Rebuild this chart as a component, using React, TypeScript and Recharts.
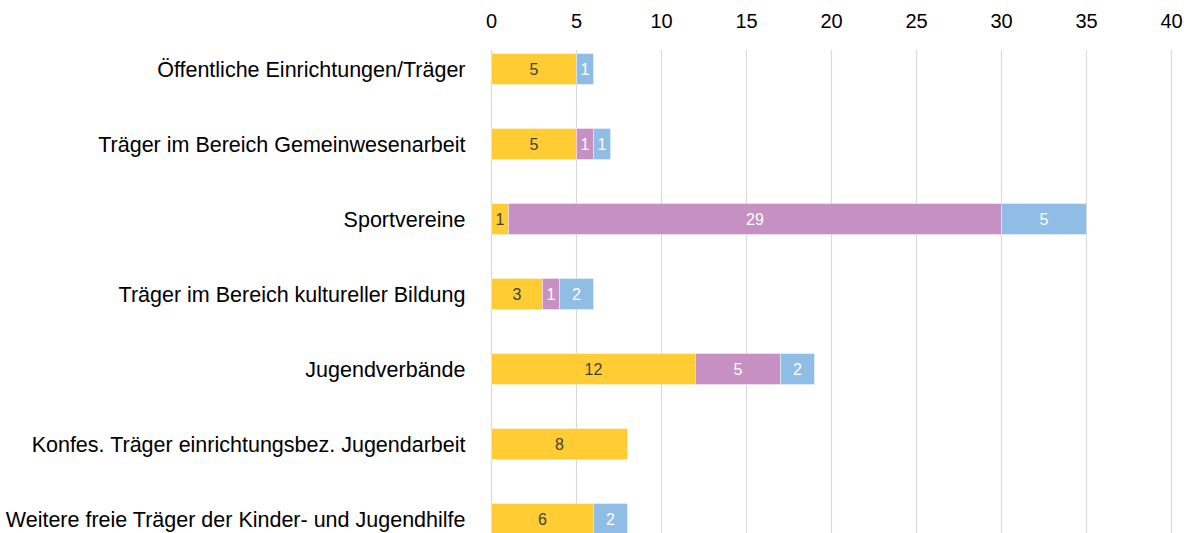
import { BarChart, Bar, XAxis, YAxis, CartesianGrid, LabelList } from "recharts";

const categories = [
  "Öffentliche Einrichtungen/Träger",
  "Träger im Bereich Gemeinwesenarbeit",
  "Sportvereine",
  "Träger im Bereich kultureller Bildung",
  "Jugendverbände",
  "Konfes. Träger einrichtungsbez. Jugendarbeit",
  "Weitere freie Träger der Kinder- und Jugendhilfe",
];

const gelb = [5, 5, 1, 3, 12, 8, 6];
const lila = [0, 1, 29, 1, 5, 0, 0];
const blau = [1, 1, 5, 2, 2, 0, 2];

const xTicks = [0, 5, 10, 15, 20, 25, 30, 35, 40];

const data = categories.map((name, i) => ({
  name,
  gelb: gelb[i],
  lila: lila[i],
  blau: blau[i],
}));

const FONT = "Arial, 'Liberation Sans', sans-serif";

const hideZero = (v: any) => (Number(v) === 0 ? "" : v);

// gridlines in the original start a bit below the plot top
const GridLine = (props: any) => {
  const { x1, x2, y1, y2 } = props;
  return <line x1={x1} x2={x2} y1={y1 + 18.5} y2={y2} stroke="#D9D9D9" strokeWidth={1.2} />;
};

export default function App() {
  return (
    <div
      style={{
        position: "absolute",
        left: 0,
        top: 0,
        width: 1184,
        height: 533,
        overflow: "hidden",
        background: "#fff",
        fontFamily: FONT,
      }}
    >
      <BarChart
        width={1184}
        height={560}
        data={data}
        layout="vertical"
        margin={{ top: 0, right: 12.5, left: 0, bottom: 3.5 }}
        barSize={31}
      >
        <CartesianGrid horizontal={false} vertical={GridLine} />
        <XAxis
          type="number"
          orientation="top"
          domain={[0, 40]}
          ticks={xTicks}
          height={31.5}
          axisLine={false}
          tickLine={false}
          tickSize={0}
          tickMargin={3.5}
          interval={0}
          tick={{ fontSize: 20, fill: "#000", fontFamily: FONT }}
        />
        <YAxis
          type="category"
          dataKey="name"
          width={491.5}
          axisLine={false}
          tickLine={false}
          tickSize={0}
          tickMargin={26}
          interval={0}
          tick={{ fontSize: 21.5, fill: "#000", fontFamily: FONT }}
        />
        <Bar dataKey="gelb" stackId="a" fill="#FFCD33" stroke="#fff" strokeOpacity={0.5} strokeWidth={0.75} isAnimationActive={false}>
          <LabelList dataKey="gelb" position="center" formatter={hideZero} fill="#404040" fontSize={16} fontFamily={FONT} />
        </Bar>
        <Bar dataKey="lila" stackId="a" fill="#C690C2" stroke="#fff" strokeOpacity={0.5} strokeWidth={0.75} isAnimationActive={false}>
          <LabelList dataKey="lila" position="center" formatter={hideZero} fill="#fff" fontSize={16} fontFamily={FONT} />
        </Bar>
        <Bar dataKey="blau" stackId="a" fill="#8FBDE6" stroke="#fff" strokeOpacity={0.5} strokeWidth={0.75} isAnimationActive={false}>
          <LabelList dataKey="blau" position="center" formatter={hideZero} fill="#fff" fontSize={16} fontFamily={FONT} />
        </Bar>
      </BarChart>
    </div>
  );
}
